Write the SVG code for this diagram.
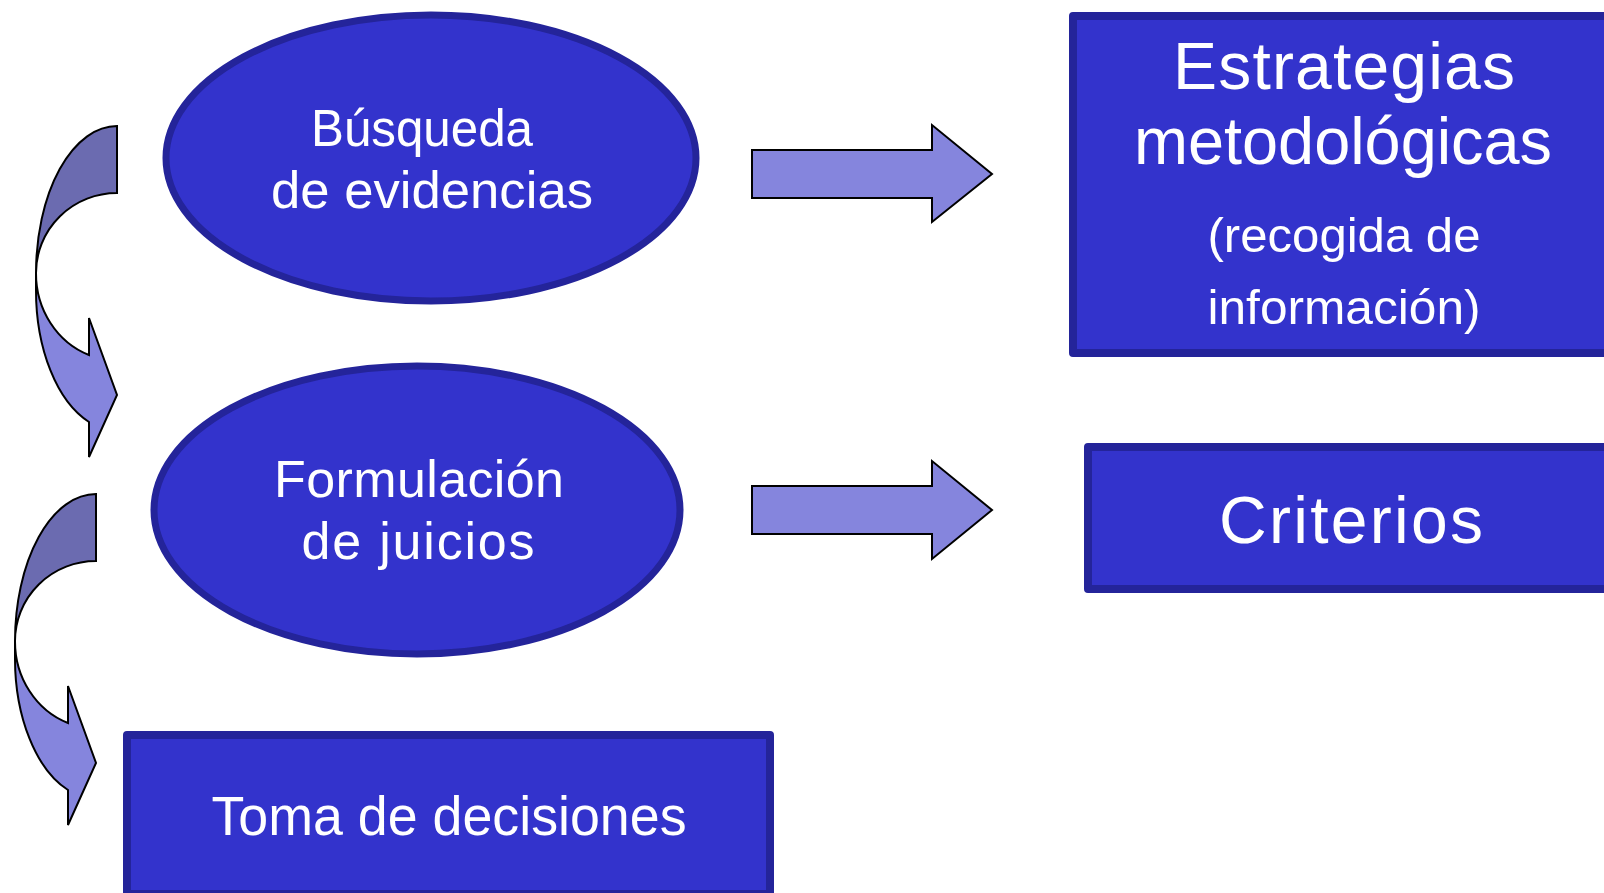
<svg xmlns="http://www.w3.org/2000/svg" xmlns:xlink="http://www.w3.org/1999/xlink" width="1604" height="893" viewBox="0 0 1604 893">
<style>
.node{fill:#3333cc;stroke:#24249a;}
.ell{stroke-width:7;}
.box{stroke-width:8;stroke-linejoin:round;}
.t{font-family:"Liberation Sans",Arial,sans-serif;fill:#ffffff;text-anchor:middle;}
.arrow{fill:#8585dd;stroke:#000000;stroke-width:2;stroke-linejoin:miter;}
.back{fill:#6b6bb0;stroke:#000000;stroke-width:2;}
</style>
<defs>
<g id="curved">
<path class="arrow" d="M36,273 A81,87 0 0 0 89,355 L89,318 L117,395 L89,457 L89,422 A81,140 0 0 1 36,290 Z"/>
<path class="back" d="M117,126 A81,147 0 0 0 36,273 A81,80 0 0 1 117,193 Z"/>
</g>
</defs>
<rect width="1604" height="893" fill="#ffffff"/>
<g id="connectors">
<use xlink:href="#curved" href="#curved"/>
<use xlink:href="#curved" href="#curved" transform="translate(-21,368)"/>
<path class="arrow" d="M752,150 L932,150 L932,125 L992,174 L932,222 L932,198 L752,198 Z"/>
<path class="arrow" d="M752,486 L932,486 L932,461 L992,510 L932,559 L932,534 L752,534 Z"/>
</g>
<g id="node-busqueda">
<ellipse class="node ell" cx="431" cy="158" rx="265" ry="143"/>
<text class="t" x="422" y="146" font-size="52" textLength="222" lengthAdjust="spacingAndGlyphs">Búsqueda</text>
<text class="t" x="432" y="208" font-size="52" textLength="322" lengthAdjust="spacingAndGlyphs">de evidencias</text>
</g>
<g id="node-formulacion">
<ellipse class="node ell" cx="417" cy="510" rx="263" ry="144"/>
<text class="t" x="419" y="497" font-size="52" textLength="290" lengthAdjust="spacing">Formulación</text>
<text class="t" x="418" y="559" font-size="52" textLength="233" lengthAdjust="spacing">de juicios</text>
</g>
<g id="node-estrategias">
<rect class="node box" x="1073" y="16" width="560" height="337"/>
<text class="t" x="1344" y="89" font-size="66" textLength="342" lengthAdjust="spacing">Estrategias</text>
<text class="t" x="1343" y="164" font-size="66" textLength="418" lengthAdjust="spacingAndGlyphs">metodológicas</text>
<text class="t" x="1344" y="252" font-size="48" textLength="273" lengthAdjust="spacingAndGlyphs">(recogida de</text>
<text class="t" x="1344" y="324" font-size="48" textLength="273" lengthAdjust="spacingAndGlyphs">información)</text>
</g>
<g id="node-criterios">
<rect class="node box" x="1088" y="447" width="560" height="142"/>
<text class="t" x="1351" y="543" font-size="66" textLength="264" lengthAdjust="spacing">Criterios</text>
</g>
<g id="node-toma">
<rect class="node box" x="127" y="735" width="643" height="159"/>
<text class="t" x="449" y="835" font-size="56" textLength="475" lengthAdjust="spacingAndGlyphs">Toma de decisiones</text>
</g>
</svg>
